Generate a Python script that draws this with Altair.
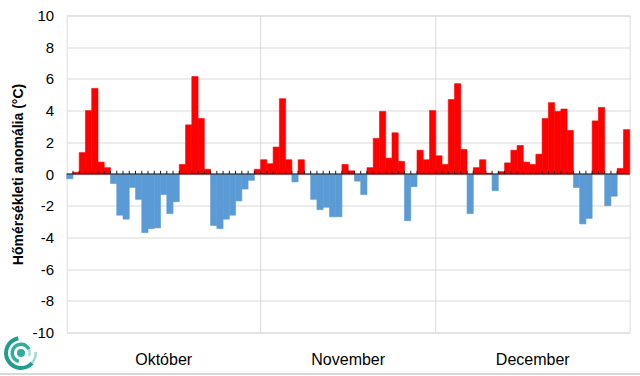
import altair as alt
import pandas as pd

# Daily temperature anomaly (°C), Oct 1 -> end of Dec (90 bars as drawn)
values = [
    -0.3, 0.1, 1.35, 4.0, 5.4, 0.75, 0.4, -0.6, -2.6, -2.85,
    -0.85, -1.6, -3.7, -3.45, -3.4, -1.3, -2.5, -1.75, 0.6, 3.1,
    6.15, 3.5, 0.3, -3.25, -3.45, -2.85, -2.6, -1.7, -0.95, -0.4,
    0.3, 0.9, 0.65, 1.7, 4.75, 0.9, -0.5, 0.9, 0.0, -1.6,
    -2.25, -2.1, -2.7, -2.7, 0.6, 0.2, -0.45, -1.3, 0.4, 2.25,
    3.95, 1.0, 2.6, 0.8, -2.95, -0.8, 1.5, 0.9, 4.0, 1.15,
    0.6, 4.7, 5.7, 1.55, -2.5, 0.4, 0.9, 0.05, -1.05, 0.15,
    0.7, 1.5, 1.8, 0.75, 0.6, 1.25, 3.5, 4.5, 3.95, 4.1,
    2.75, -0.85, -3.15, -2.8, 3.35, 4.2, -2.0, -1.4, 0.35, 2.8,
]
days = list(range(1, len(values) + 1))
months = ["Október", "November", "December"]
month_start = [0, 31, 59]
month_end = [31, 59, 90]
y_ticks = list(range(-10, 11, 2))
y_title = "Hőmérsékleti anomália (°C)"

N = len(values)
PW, PH = 563, 317
FONT = "Liberation Sans"

df = pd.DataFrame({"day": days, "value": values})
df["x0"] = df["day"] - 1
df["x1"] = df["day"]
df["zero"] = 0.0
df["col"] = ["#FF0000" if v > 0 else "#5B9BD5" for v in values]

mdf = pd.DataFrame({"month": months, "start": month_start, "end": month_end})
mdf["mid"] = (mdf["start"] + mdf["end"]) / 2
divs = mdf[mdf["start"] > 0]

tdf = pd.DataFrame({"b": list(range(1, N))})
tdf["y0"] = 0.0
tdf["y1"] = 0.2

xscale = alt.Scale(domain=[0, N], nice=False, zero=False)
yscale = alt.Scale(domain=[-10, 10], nice=False)

y_axis = alt.Axis(
    values=y_ticks,
    grid=True,
    gridColor="#d9d9d9",
    gridWidth=1,
    domain=False,
    ticks=False,
    labelPadding=13,
    labelFontSize=15,
    labelFont=FONT,
    labelColor="#000000",
    labelExpr="'' + datum.value",
    title=y_title,
    titleFont=FONT,
    titleFontSize=14,
    titleFontWeight="bold",
    titleColor="#000000",
    titleAngle=270,
    titleX=-47.7,
    titleY=PH / 2,
    titleAlign="center",
    titleBaseline="middle",
)

bars = alt.Chart(df).mark_rect(strokeWidth=0.6).encode(
    x=alt.X("x0:Q", scale=xscale, axis=None),
    x2="x1:Q",
    y=alt.Y("value:Q", scale=yscale, axis=y_axis),
    y2="zero:Q",
    color=alt.Color("col:N", scale=None),
    stroke=alt.Color("col:N", scale=None),
)

dividers = alt.Chart(divs).mark_rule(color="#d9d9d9", strokeWidth=1).encode(
    x=alt.X("start:Q", scale=xscale, axis=None)
)

zero_line = alt.Chart(pd.DataFrame({"z": [0.0]})).mark_rule(color="#1a1a1a", strokeWidth=1).encode(
    y=alt.Y("z:Q", scale=yscale, axis=y_axis)
)

ticks = alt.Chart(tdf).mark_rule(color="#1a1a1a", strokeWidth=1).encode(
    x=alt.X("b:Q", scale=xscale, axis=None),
    y=alt.Y("y0:Q", scale=yscale, axis=y_axis),
    y2="y1:Q",
)

labels = alt.Chart(mdf).mark_text(
    font=FONT, fontSize=16, color="#000000", baseline="alphabetic", align="center"
).encode(
    x=alt.X("mid:Q", scale=xscale, axis=None),
    y=alt.value(349),
    text="month:N",
)

# light bottom edge of the chart area
one = pd.DataFrame({"k": [0]})
edge = alt.Chart(one).mark_rule(color="#d9d9d9", strokeWidth=2).encode(
    x=alt.value(-66.7), x2=alt.value(PW + 10.3), y=alt.value(358.5)
)

# small spiral logo (decoration)
lx, ly = 21 - 66.7, 353 - 15.5
logo_parts = [
    dict(innerRadius=13, outerRadius=17, theta=2.3, theta2=6.1, color="#1f9e90"),
    dict(innerRadius=13.5, outerRadius=16, theta=1.5, theta2=2.3, color="#9fd8d0"),
    dict(innerRadius=7, outerRadius=10.5, theta=3.4, theta2=7.4, color="#31ad9f"),
    dict(innerRadius=7.5, outerRadius=10, theta=7.4, theta2=8.2, color="#a6dcd4"),
    dict(innerRadius=0, outerRadius=4, theta=0, theta2=6.2832, color="#31ad9f"),
]
logo = [
    alt.Chart(one).mark_arc(**p).encode(x=alt.value(lx), y=alt.value(ly))
    for p in logo_parts
]

chart = alt.layer(dividers, bars, zero_line, ticks, labels, edge, *logo).properties(
    width=PW,
    height=PH,
    autosize=alt.AutoSizeParams(type="none"),
    padding={"left": 66.7, "top": 15.5, "right": 10.3, "bottom": 43.5},
).configure_view(
    stroke="#868686", strokeWidth=1
).configure(background="#ffffff")

chart.save("out.html", embed_options={"renderer": "svg", "actions": False})
